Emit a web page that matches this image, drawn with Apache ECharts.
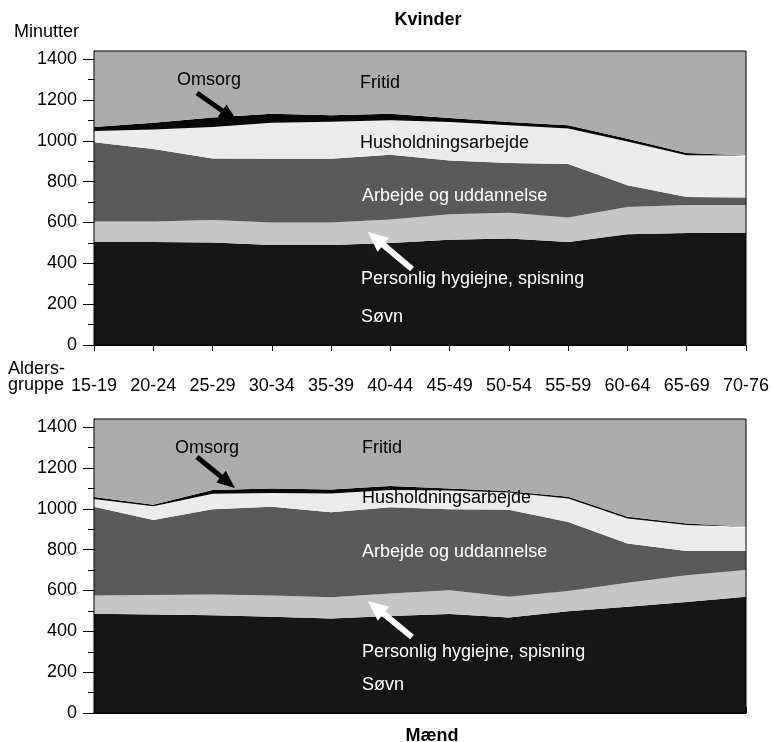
<!DOCTYPE html>
<html>
<head>
<meta charset="utf-8">
<script src="https://cdn.jsdelivr.net/npm/echarts@6/dist/echarts.min.js"></script>
<style>
html,body{margin:0;padding:0;background:#fff;}
#c{width:773px;height:742px;}
</style>
</head>
<body>
<div id="c"></div>
<script>
const categories = ['15-19','20-24','25-29','30-34','35-39','40-44','45-49','50-54','55-59','60-64','65-69','70-76'];
const yTicks = [0,200,400,600,800,1000,1200,1400];
const yMinorTicks = [100,300,500,700,900,1100,1300];

// Kvinder (minutes per day)
const kvSovn     = [505,504,502,490,490,500,515,522,505,542,548,550];
const kvHygiejne = [100,101,110,110,110,115,125,126,119,134,138,136];
const kvArbejde  = [388,355,302,312,312,317,264,244,263,106, 39, 36];
const kvHushold  = [ 55, 95,154,176,181,169,188,184,174,215,205,198];
const kvOmsorg   = [ 20, 33, 46, 45, 32, 32, 20, 16, 15, 13, 10,  8];
const kvFritid   = [372,352,326,307,315,307,328,348,364,430,500,512];

// Mænd (minutes per day)
const mSovn      = [486,483,479,471,463,475,485,468,498,520,544,569];
const mHygiejne  = [ 89, 95,101,105,104,110,116,101, 99,118,131,131];
const mArbejde   = [435,367,418,434,416,423,397,426,338,192,118, 93];
const mHushold   = [ 38, 68, 76, 68, 92, 84, 92, 85,116,123,128,112];
const mOmsorg    = [ 10,  7, 18, 22, 20, 20, 10,  6,  8,  8,  7,  7];
const mFritid    = [382,420,348,340,345,328,340,354,381,479,512,528];

const seriesNames = ['Søvn','Personlig hygiejne, spisning','Arbejde og uddannelse','Husholdningsarbejde','Omsorg','Fritid'];
const colors = ['#161616','#c6c6c6','#5a5a5a','#ececec','#080808','#acacac'];

const FONT = '"Liberation Sans", Arial, sans-serif';

function mkSeries(arrs, gi, stack){
  return arrs.map((d,i)=>({
    name: seriesNames[i], type:'line', stack: stack,
    xAxisIndex: gi, yAxisIndex: gi*2,
    data: d, showSymbol:false, symbol:'none', smooth:false,
    lineStyle:{width:0}, areaStyle:{color:colors[i], opacity:1},
    itemStyle:{color:colors[i]}, silent:true, z: 2
  }));
}

function yAxes(gi){
  return [
    {type:'value', gridIndex:gi, min:0, max:1440, interval:200,
     axisLine:{show:true, lineStyle:{color:'#000', width:1}},
     axisTick:{show:true, length:11, customValues:yTicks, lineStyle:{color:'#000'}},
     axisLabel:{show:true, customValues:yTicks, margin:17, color:'#000', fontSize:18, fontFamily:FONT,
                formatter:function(v){return String(v);}},
     splitLine:{show:false}},
    {type:'value', gridIndex:gi, min:0, max:1440, interval:100, position:'left',
     axisLine:{show:false},
     axisTick:{show:true, length:6, customValues:yMinorTicks, lineStyle:{color:'#000'}},
     axisLabel:{show:false}, splitLine:{show:false}}
  ];
}

function arrow(x1,y1,x2,y2,shaftHalf,headHalf,headLen,fill){
  const dx=x2-x1, dy=y2-y1, L=Math.hypot(dx,dy);
  const ux=dx/L, uy=dy/L, nx=-uy, ny=ux;
  const bx=x2-ux*headLen, by=y2-uy*headLen;
  return {type:'polygon', z:100, silent:true,
    shape:{points:[
      [x1+nx*shaftHalf, y1+ny*shaftHalf],
      [bx+nx*shaftHalf, by+ny*shaftHalf],
      [bx+nx*headHalf, by+ny*headHalf],
      [x2, y2],
      [bx-nx*headHalf, by-ny*headHalf],
      [bx-nx*shaftHalf, by-ny*shaftHalf],
      [x1-nx*shaftHalf, y1-ny*shaftHalf]
    ]},
    style:{fill:fill}};
}

function txt(t,x,y,fill,bold){
  return {type:'text', z:101, silent:true, x:x, y:y,
    style:{text:t, fill:fill, font:(bold?'bold ':'')+'18px '+FONT, align:'left', verticalAlign:'middle', textAlign:'left', textVerticalAlign:'middle'}};
}

const chart = echarts.init(document.getElementById('c'), null, {renderer:'canvas'});
chart.setOption({
  animation:false,
  backgroundColor:'#fff',
  title:[
    {text:'Kvinder', left:423, top:6, textAlign:'center', textStyle:{fontSize:18, fontWeight:'bold', color:'#000', fontFamily:FONT}},
    {text:'Mænd', left:427, top:722, textAlign:'center', textStyle:{fontSize:18, fontWeight:'bold', color:'#000', fontFamily:FONT}}
  ],
  grid:[
    {left:94, right:27, top:51, height:294, show:true, borderColor:'#000', borderWidth:1, backgroundColor:'transparent', z:3},
    {left:94, right:27, top:419, height:294, show:true, borderColor:'#000', borderWidth:1, backgroundColor:'transparent', z:3}
  ],
  xAxis:[
    {type:'category', gridIndex:0, data:categories, boundaryGap:false, position:'bottom',
     axisLine:{show:true, lineStyle:{color:'#000'}},
     axisTick:{show:true, length:6, lineStyle:{color:'#000'}},
     axisLabel:{show:true, interval:0, margin:32, color:'#000', fontSize:18, fontFamily:FONT}},
    {type:'category', gridIndex:1, data:categories, boundaryGap:false, position:'top',
     axisLine:{show:true, lineStyle:{color:'#000'}},
     axisTick:{show:true, length:6, lineStyle:{color:'#000'}},
     axisLabel:{show:false}}
  ],
  yAxis: yAxes(0).concat(yAxes(1)),
  series: mkSeries([kvSovn,kvHygiejne,kvArbejde,kvHushold,kvOmsorg,kvFritid],0,'kv')
          .concat(mkSeries([mSovn,mHygiejne,mArbejde,mHushold,mOmsorg,mFritid],1,'m')),
  graphic:[
    txt('Minutter',14,32,'#000'),
    txt('Alders-',8,369,'#000'),
    txt('gruppe',8,385,'#000'),
    // Kvinder labels
    txt('Omsorg',177,80,'#000'),
    txt('Fritid',360,83,'#000'),
    txt('Husholdningsarbejde',360,143,'#000'),
    txt('Arbejde og uddannelse',362,196,'#fff'),
    txt('Personlig hygiejne, spisning',361,279,'#fff'),
    txt('Søvn',361,317,'#fff'),
    arrow(197,93,237,121,2.5,7.5,18,'#000'),
    arrow(412,269,368,232,3,9,20,'#fff'),
    // Mænd labels
    txt('Omsorg',175,448,'#000'),
    txt('Fritid',362,448,'#000'),
    txt('Husholdningsarbejde',362,498,'#000'),
    txt('Arbejde og uddannelse',362,552,'#fff'),
    txt('Personlig hygiejne, spisning',362,652,'#fff'),
    txt('Søvn',362,685,'#fff'),
    arrow(197,457,235,488,2.5,7.5,18,'#000'),
    arrow(412,637,368,601,3,9,20,'#fff')
  ]
});
</script>
</body>
</html>
